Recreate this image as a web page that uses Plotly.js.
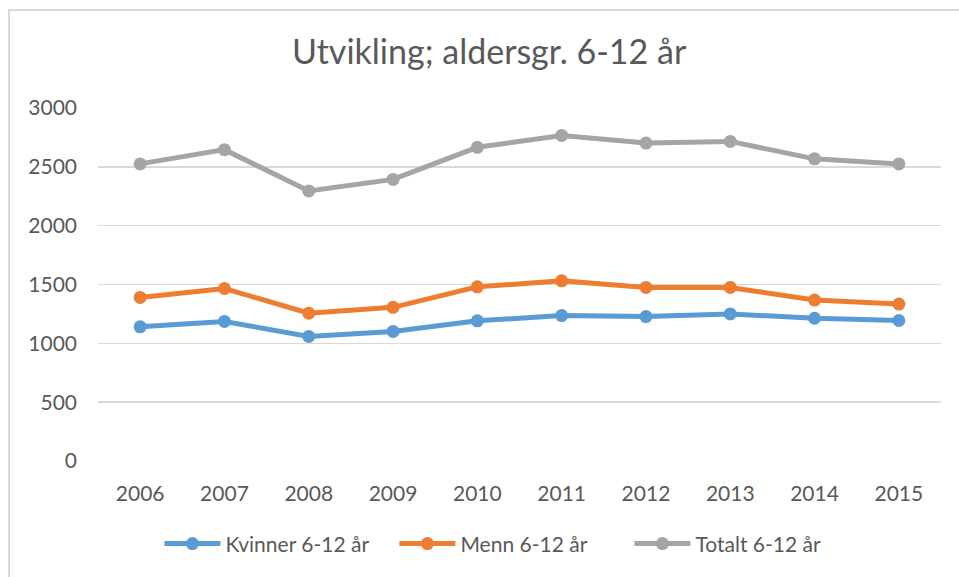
<!DOCTYPE html>
<html>
<head>
<meta charset="utf-8">
<script src="https://cdn.plot.ly/plotly-3.0.1.min.js"></script>
<style>
  html, body { margin: 0; padding: 0; background: #ffffff; overflow: hidden; }
  #frame { position: absolute; left: 8px; top: 9px; width: 980px; height: 600px;
           border-left: 2px solid #d9d9d9; border-top: 2px solid #d9d9d9; pointer-events: none; }
  #chart { position: absolute; left: 0; top: 0; width: 959px; height: 577px; }
</style>
</head>
<body>
<div id="chart"></div>
<div id="frame"></div>
<script>
const years = ['2006','2007','2008','2009','2010','2011','2012','2013','2014','2015'];
const kvinner = [1140, 1186, 1059, 1101, 1191, 1236, 1227, 1250, 1213, 1194];
const menn    = [1390, 1466, 1256, 1306, 1480, 1531, 1475, 1475, 1368, 1334];
const totalt  = [2525, 2646, 2295, 2393, 2666, 2767, 2702, 2716, 2568, 2525];
const seriesNames = ['Kvinner 6-12 år', 'Menn 6-12 år', 'Totalt 6-12 år'];
const yTicks = [0, 500, 1000, 1500, 2000, 2500, 3000];

const colors = ['#5B9BD5', '#ED7D31', '#A5A5A5'];
const font = 'Lato, "Open Sans", sans-serif';

function mk(y, i) {
  return {
    x: years, y: y, name: seriesNames[i], type: 'scatter', mode: 'lines+markers',
    line: { color: colors[i], width: 5 },
    marker: { color: colors[i], size: 13 }
  };
}

const data = [mk(kvinner, 0), mk(menn, 1), mk(totalt, 2)];

const layout = {
  width: 959, height: 577,
  margin: { l: 98, r: 18, t: 108, b: 113.5 },
  paper_bgcolor: '#ffffff', plot_bgcolor: '#ffffff',
  font: { family: font, color: '#595959', size: 21 },
  title: {
    text: 'Utvikling; aldersgr. 6-12 år',
    font: { family: font, size: 34, color: '#595959' },
    x: 0.464, xanchor: 'center', xref: 'paper',
    y: 1 - 52 / 577, yanchor: 'middle', yref: 'container'
  },
  xaxis: {
    type: 'category', range: [-0.5, 9.5],
    showgrid: false, zeroline: false, showline: false,
    ticks: '', tickfont: { family: font, size: 21, color: '#595959' },
    ticklabelstandoff: 18
  },
  yaxis: {
    range: [0, 3000], tickvals: yTicks,
    showgrid: true, gridcolor: '#D9D9D9', gridwidth: 1.6,
    zeroline: false, showline: false, ticks: '',
    tickfont: { family: font, size: 21, color: '#595959' },
    ticklabelstandoff: 20
  },
  showlegend: true,
  legend: {
    orientation: 'h', x: 0.491, xanchor: 'center', y: -0.235, yanchor: 'middle',
    font: { family: font, size: 21, color: '#595959' },
    itemwidth: 56, entrywidth: 164, entrywidthmode: 'pixels', tracegroupgap: 0
  }
};

Plotly.newPlot('chart', data, layout, { displayModeBar: false, staticPlot: true });
</script>
</body>
</html>
